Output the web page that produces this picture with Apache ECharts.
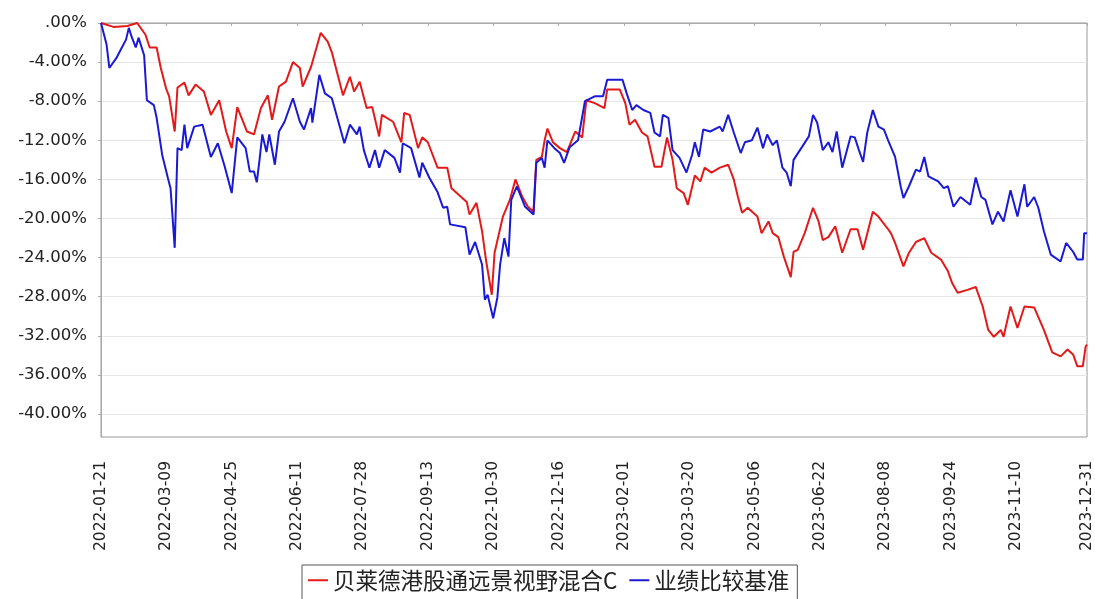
<!DOCTYPE html>
<html>
<head>
<meta charset="utf-8">
<script src="https://cdn.jsdelivr.net/npm/echarts@6/dist/echarts.min.js"></script>
<style>
html,body{margin:0;padding:0;background:#fff;}
#main{width:1095px;height:599px;}
</style>
</head>
<body>
<div id="main"></div>
<script>
// 起始日期 2022-01-21, 横轴按自然日计
var startDate = '2022-01-21';
var xTickDays = [0, 47, 94, 141, 188, 235, 282, 329, 376, 423, 470, 517, 564, 611, 658, 709];
var yTicks = [0, -4, -8, -12, -16, -20, -24, -28, -32, -36, -40];

var fundName = '贝莱德港股通远景视野混合C';
var benchName = '业绩比较基准';

var redDays = [0, 9, 19, 26, 32, 35, 40, 43, 47, 49, 53, 55, 60, 63, 68, 74, 79, 85, 90, 94, 98, 105, 110, 115, 120, 123, 128, 133, 138, 143, 145, 151, 158, 163, 166, 174, 179, 182, 186, 191, 195, 200, 202, 210, 216, 218, 222, 228, 231, 235, 242, 249, 252, 263, 265, 270, 274, 277, 281, 283, 289, 294, 298, 303, 307, 311, 313, 317, 319, 321, 325, 330, 335, 341, 346, 349, 355, 362, 364, 373, 377, 380, 384, 389, 393, 398, 403, 407, 411, 414, 419, 422, 427, 431, 434, 439, 445, 451, 455, 458, 461, 465, 472, 475, 480, 483, 487, 491, 496, 498, 501, 506, 512, 516, 519, 523, 528, 533, 539, 544, 548, 555, 559, 566, 568, 571, 577, 581, 586, 592, 597, 604, 609, 612, 616, 623, 629, 634, 638, 642, 647, 649, 654, 659, 664, 671, 678, 684, 690, 695, 699, 702, 706, 708, 709];
var redValues = [0, -0.4, -0.3, 0, -1.2, -2.5, -2.5, -4.6, -6.8, -7.5, -11.1, -6.6, -6.1, -7.4, -6.3, -7.0, -9.4, -7.9, -11.1, -12.8, -8.6, -11.1, -11.4, -8.7, -7.4, -9.9, -6.5, -6.0, -4.0, -4.6, -6.5, -4.5, -1.0, -1.9, -3.0, -7.4, -5.5, -7.0, -6.0, -8.7, -8.6, -11.6, -9.4, -10.1, -12.2, -9.2, -9.4, -12.8, -11.7, -12.2, -14.8, -14.8, -16.9, -18.3, -19.6, -18.4, -21.3, -24.4, -27.8, -23.5, -19.8, -18.1, -16.0, -17.8, -18.8, -19.3, -14.0, -13.7, -12.0, -10.8, -12.2, -12.8, -13.2, -11.1, -11.7, -7.9, -8.2, -8.7, -6.8, -6.8, -8.2, -10.4, -9.9, -11.2, -11.6, -14.7, -14.7, -11.7, -14.0, -16.9, -17.4, -18.6, -15.6, -16.2, -14.8, -15.3, -14.8, -14.5, -16.0, -17.8, -19.4, -18.9, -19.8, -21.5, -20.3, -21.5, -21.9, -23.9, -26.0, -23.4, -23.2, -21.5, -18.9, -20.3, -22.2, -21.9, -20.8, -23.5, -21.1, -21.1, -23.2, -19.3, -19.8, -21.1, -21.5, -22.5, -24.9, -23.5, -22.4, -22.0, -23.5, -24.2, -25.4, -26.6, -27.6, -27.3, -27.0, -29.0, -31.4, -32.1, -31.4, -32.1, -29.0, -31.2, -29.0, -29.1, -31.4, -33.7, -34.1, -33.4, -33.9, -35.1, -35.1, -33.1, -32.9];

var blueDays = [0, 1, 4, 6, 11, 15, 18, 20, 22, 25, 27, 31, 33, 38, 40, 44, 48, 50, 53, 55, 58, 60, 62, 67, 73, 79, 84, 89, 94, 98, 104, 107, 110, 112, 114, 116, 119, 121, 125, 128, 132, 138, 143, 146, 151, 152, 157, 161, 166, 175, 179, 184, 186, 189, 193, 197, 200, 204, 211, 215, 217, 223, 229, 231, 236, 242, 246, 249, 251, 262, 265, 269, 274, 276, 278, 282, 285, 287, 290, 293, 295, 299, 305, 311, 313, 317, 319, 321, 326, 330, 333, 337, 343, 348, 355, 361, 364, 375, 378, 382, 385, 390, 395, 398, 402, 404, 408, 411, 416, 421, 425, 427, 430, 433, 438, 445, 447, 451, 455, 460, 463, 468, 472, 476, 479, 483, 486, 490, 493, 496, 498, 504, 509, 512, 515, 519, 523, 526, 529, 533, 539, 542, 545, 548, 551, 555, 559, 563, 566, 571, 575, 577, 581, 586, 589, 592, 595, 602, 606, 609, 613, 618, 625, 629, 633, 636, 641, 645, 649, 654, 659, 664, 666, 671, 674, 678, 683, 690, 694, 699, 702, 706, 707, 709];
var blueValues = [0, -0.2, -2.2, -4.6, -3.6, -2.5, -1.7, -0.5, -1.4, -2.5, -1.5, -3.3, -7.9, -8.4, -9.7, -13.5, -15.8, -16.9, -23.0, -12.8, -13.0, -10.4, -12.8, -10.6, -10.4, -13.7, -12.3, -14.7, -17.4, -11.7, -12.8, -15.2, -15.2, -16.3, -14.0, -11.4, -13.2, -11.4, -14.5, -11.1, -10.1, -7.7, -10.1, -10.9, -8.7, -10.2, -5.3, -7.2, -7.7, -12.3, -10.4, -11.4, -10.6, -13.0, -14.8, -13.0, -14.8, -13.0, -13.8, -15.3, -12.3, -12.8, -15.8, -14.3, -15.8, -17.3, -18.9, -18.8, -20.6, -20.9, -23.7, -22.4, -24.7, -28.3, -27.8, -30.2, -28.1, -24.7, -22.0, -23.9, -18.1, -16.7, -18.8, -19.6, -14.3, -13.8, -14.8, -12.0, -12.8, -13.3, -14.3, -12.7, -12.0, -8.0, -7.5, -7.5, -5.8, -5.8, -7.2, -8.9, -8.4, -8.9, -9.2, -11.2, -11.6, -9.4, -9.7, -13.0, -13.8, -15.3, -13.5, -12.2, -13.7, -10.9, -11.1, -10.6, -11.1, -9.4, -11.2, -13.3, -12.2, -12.0, -10.7, -12.8, -11.4, -12.5, -12.0, -14.8, -15.3, -16.7, -14.0, -12.7, -11.6, -9.4, -10.2, -13.0, -12.2, -13.2, -11.1, -14.8, -11.6, -11.7, -13.0, -14.2, -11.2, -8.9, -10.6, -10.9, -12.0, -13.7, -16.7, -17.9, -16.7, -15.0, -15.2, -13.7, -15.7, -16.2, -16.9, -16.7, -18.8, -17.8, -18.6, -15.8, -17.8, -18.1, -20.6, -19.3, -20.3, -17.1, -19.8, -16.5, -18.8, -17.8, -18.9, -21.3, -23.7, -24.4, -22.5, -23.4, -24.2, -24.2, -21.5, -21.5];

function pairUp(days, vals) {
    var out = [];
    for (var i = 0; i < days.length; i++) {
        out.push([days[i], vals[i]]);
    }
    return out;
}

function dayToDate(d) {
    var p = startDate.split('-');
    var t = new Date(Date.UTC(+p[0], +p[1] - 1, +p[2]) + d * 86400000);
    var m = t.getUTCMonth() + 1, dd = t.getUTCDate();
    return t.getUTCFullYear() + '-' + (m < 10 ? '0' + m : m) + '-' + (dd < 10 ? '0' + dd : dd);
}

var myChart = echarts.init(document.getElementById('main'));

var option = {
    animation: false,
    backgroundColor: '#fff',
    grid: {
        left: 101,
        right: 8,
        top: 23,
        bottom: 162,
        show: true,
        borderColor: '#999',
        borderWidth: 1
    },
    legend: {
        left: 302,
        top: 565,
        data: [fundName, benchName],
        icon: 'rect',
        itemWidth: 20,
        itemHeight: 2,
        itemGap: 12,
        padding: [4, 8, 8, 6],
        borderColor: '#555',
        borderWidth: 1,
        textStyle: {
            fontSize: 22.5,
            color: '#222',
            fontFamily: 'Noto Sans CJK SC'
        }
    },
    xAxis: {
        type: 'value',
        min: 0,
        max: 709,
        offset: 6,
        axisLine: { show: true, lineStyle: { color: '#aaa' } },
        axisTick: { show: true, length: 3, customValues: xTickDays, lineStyle: { color: '#aaa' } },
        splitLine: { show: false },
        axisLabel: {
            customValues: xTickDays,
            rotate: 90,
            margin: 18,
            fontSize: 15.5,
            color: '#222',
            fontFamily: 'DejaVu Sans',
            formatter: function (v) { return dayToDate(v); }
        }
    },
    yAxis: {
        type: 'value',
        min: -42.35,
        max: 0,
        offset: 5,
        axisLine: { show: true, lineStyle: { color: '#aaa' } },
        axisTick: { show: true, length: 3, customValues: yTicks, lineStyle: { color: '#aaa' } },
        splitLine: { show: true, lineStyle: { color: '#e6e6e6', width: 1 } },
        axisLabel: {
            customValues: yTicks,
            margin: 9,
            fontSize: 16.5,
            color: '#222',
            fontFamily: 'DejaVu Sans',
            formatter: function (v) {
                if (v === 0) return '.00%';
                return v.toFixed(2) + '%';
            }
        }
    },
    series: [
        {
            name: fundName,
            type: 'line',
            data: pairUp(redDays, redValues),
            showSymbol: false,
            color: '#e31a1a',
            lineStyle: { width: 2, color: '#e31a1a' }
        },
        {
            name: benchName,
            type: 'line',
            data: pairUp(blueDays, blueValues),
            showSymbol: false,
            color: '#1a1ad6',
            lineStyle: { width: 2, color: '#1a1ad6' }
        }
    ]
};

myChart.setOption(option);
</script>
</body>
</html>
